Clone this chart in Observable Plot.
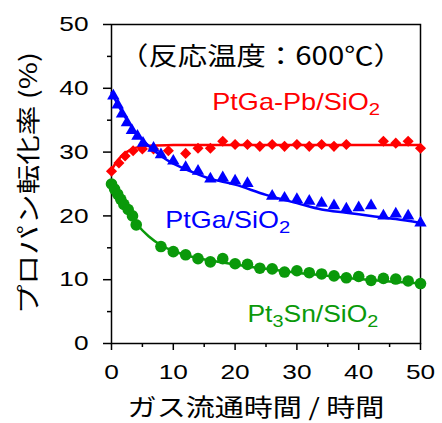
<!DOCTYPE html>
<html><head><meta charset="utf-8">
<script src="https://cdn.jsdelivr.net/npm/d3@7"></script>
<script src="https://cdn.jsdelivr.net/npm/@observablehq/plot@0.6"></script>
<style>body{margin:0;background:#fff}</style>
</head><body><div id="chart"></div>
<script>
// ---- data ----
const ptgaPbPoints = [[0,27],[1.2,28.3],[2.2,29.4],[3.5,30.2],[5,30.5],[6.8,30.5],[9.2,30.2],[12,29.8],[14,30.6],[16,30.6],[18,31.7],[20,31.2],[22,31.2],[24,30.9],[26,31.2],[28,30.9],[30,31.2],[32,30.9],[34,31.2],[36,30.9],[38,31.2],[44,31.7],[46,31.4],[48,31.7],[50,30.6]];
const ptgaPbFit = [[0,27.2],[1,28.7],[2,29.7],[3,30.3],[4,30.7],[6,31.0],[10,31.1],[20,31.1],[50,31.1]];
const ptgaPoints = [[0.3,38.8],[1,37.4],[1.7,36],[2.5,34.6],[3.3,33.4],[4.2,32.5],[5.1,31.4],[6.8,30.6],[8,29.6],[10,28.6],[12,27.6],[14,27],[16,25.8],[18,26],[20,25.5],[22,25.1],[26,23.1],[28,22.8],[30,22.6],[32,22.3],[34,22],[36,21.6],[38,21.1],[40,21.3],[42,21.6],[44,20],[46,20.3],[48,20],[50,18.9]];
const ptgaFit = [[0,39.3],[2,35.8],[4,33],[6,31],[8,29.4],[10,28.2],[13,26.9],[16,25.8],[20,24.9],[25,23.3],[30,22],[34,21],[38,20.5],[42,20],[46,19.5],[50,18.9]];
const pt3snPoints = [[0,25],[0.5,24.2],[1,23.4],[1.5,22.6],[2,21.8],[2.7,21],[3.4,20],[4,18.6],[8,15.2],[10,14.4],[12,13.9],[14,13.3],[16,12.8],[18,13.3],[20,12.5],[22,12.4],[24,11.8],[26,11.7],[28,11.2],[30,11.4],[32,11.1],[34,10.9],[36,10.6],[38,10.3],[40,10.5],[42,9.9],[44,10.2],[46,10.1],[48,9.8],[50,9.4]];
const pt3snFit = [[0,25.2],[1,23.3],[2,21.6],[3,20.1],[4,18.8],[6,16.8],[8,15.4],[10,14.5],[13,13.6],[16,13],[20,12.4],[25,11.7],[30,11.1],[35,10.6],[40,10.1],[45,9.7],[50,9.4]];
const majorTicks = [0,10,20,30,40,50];
const minorTicks = [5,15,25,35,45];
const seriesLabels = [
  {text: "PtGa-Pb/SiO₂", x: 16.3, y: 37.7, color: "#ff0000", width: 168},
  {text: "PtGa/SiO₂", x: 8.7, y: 19.3, color: "#0000ff", width: 125},
  {text: "Pt₃Sn/SiO₂", x: 22.0, y: 4.6, color: "#0a990a", width: 131}
];
const titleText = "（反応温度：600℃）";
const xLabel = "ガス流通時間 / 時間";
const yLabel = "プロパン転化率 (%)";

const RED = "#ff0000", BLUE = "#0000ff", GREEN = "#0a990a";
const CJK = "'Noto Sans CJK JP', 'Liberation Sans', sans-serif";

const chart = Plot.plot({
  width: 442, height: 423,
  marginLeft: 111, marginRight: 22, marginTop: 24, marginBottom: 80,
  style: {fontFamily: "'Liberation Sans', Arial, sans-serif", fontSize: "21px", background: "#fff", color: "#000", overflow: "visible"},
  x: {domain: [0, 50]},
  y: {domain: [0, 50]},
  marks: [
    Plot.axisX({ticks: majorTicks, tickSize: 7, tickPadding: 14, label: null, fontSize: 21, strokeWidth: 1.5}),
    Plot.axisX({ticks: minorTicks, tickSize: 4, tickFormat: () => "", label: null, strokeWidth: 1.5}),
    Plot.axisY({ticks: majorTicks, tickSize: 8, tickPadding: 15, label: null, fontSize: 21, strokeWidth: 1.5}),
    Plot.axisY({ticks: minorTicks, tickSize: 4, tickFormat: () => "", label: null, strokeWidth: 1.5}),
    Plot.frame({stroke: "#000", strokeWidth: 1.5}),
    Plot.dot(ptgaPbPoints, {x: d => d[0], y: d => d[1], symbol: "diamond2", r: 5, fill: RED}),
    Plot.line(ptgaPbFit, {x: d => d[0], y: d => d[1], stroke: RED, strokeWidth: 2.5, curve: "catmull-rom"}),
    Plot.dot(ptgaPoints, {x: d => d[0], y: d => d[1], symbol: "triangle", r: 4.6, fill: BLUE}),
    Plot.line(ptgaFit, {x: d => d[0], y: d => d[1], stroke: BLUE, strokeWidth: 2.5, curve: "catmull-rom"}),
    Plot.dot(pt3snPoints, {x: d => d[0], y: d => d[1], symbol: "circle", r: 5.8, fill: GREEN}),
    Plot.line(pt3snFit, {x: d => d[0], y: d => d[1], stroke: GREEN, strokeWidth: 2.5, curve: "catmull-rom"}),
    Plot.text(seriesLabels, {x: "x", y: "y", text: "text", fill: "color", textAnchor: "start", lineAnchor: "middle", fontSize: 23}),
    Plot.text([titleText], {frameAnchor: "top", textAnchor: "middle", dy: 23, dx: -5, fontSize: 25, fontFamily: CJK, fill: "#000"}),
    Plot.text([xLabel], {frameAnchor: "bottom", textAnchor: "middle", dy: 72, dx: -10, fontSize: 24, fontFamily: CJK, fill: "#000"}),
    Plot.text([yLabel], {frameAnchor: "left", textAnchor: "middle", lineAnchor: "middle", dx: -82, dy: -1, rotate: -90, fontSize: 24, fontFamily: CJK, fill: "#000"})
  ]
});
document.getElementById("chart").appendChild(chart);

// chemical subscripts: turn ₂/₃ into real lowered digits
const SUB = {"₀":"0","₁":"1","₂":"2","₃":"3","₄":"4","₅":"5","₆":"6","₇":"7","₈":"8","₉":"9"};
const originalText = new Map();
chart.querySelectorAll("text").forEach(t => {
  const s = t.textContent;
  if (!/[₀-₉]/.test(s)) return;
  originalText.set(t, s);
  t.textContent = "";
  const parts = s.split(/([₀-₉]+)/).filter(p => p);
  let lowered = false;
  parts.forEach(p => {
    const span = document.createElementNS("http://www.w3.org/2000/svg", "tspan");
    if (/[₀-₉]/.test(p)) {
      span.textContent = [...p].map(c => SUB[c]).join("");
      span.setAttribute("font-size", "0.75em");
      span.setAttribute("dy", "5");
      lowered = true;
    } else {
      span.textContent = p;
      if (lowered) { span.setAttribute("dy", "-5"); lowered = false; }
    }
    t.appendChild(span);
  });
});

// the reference's text is drawn wide: stretch glyphs along the text direction,
// scaling about each text's own anchor point
const targetWidths = new Map([[titleText, 284], [xLabel, 257], [yLabel, 262], ...seriesLabels.map(d => [d.text, d.width])]);
chart.querySelectorAll("text").forEach(t => {
  const s = originalText.get(t) || t.textContent;
  if (!s) return;
  const w = t.getComputedTextLength();
  const sx = targetWidths.has(s) ? targetWidths.get(s) / w : 1.25;
  const ax = t.getAttribute("x") ? +t.getAttribute("x") : 0;
  const tr = t.getAttribute("transform") || "";
  t.setAttribute("transform", `${tr} translate(${ax},0) scale(${sx},1) translate(${-ax},0)`);
});
</script>
</body></html>
